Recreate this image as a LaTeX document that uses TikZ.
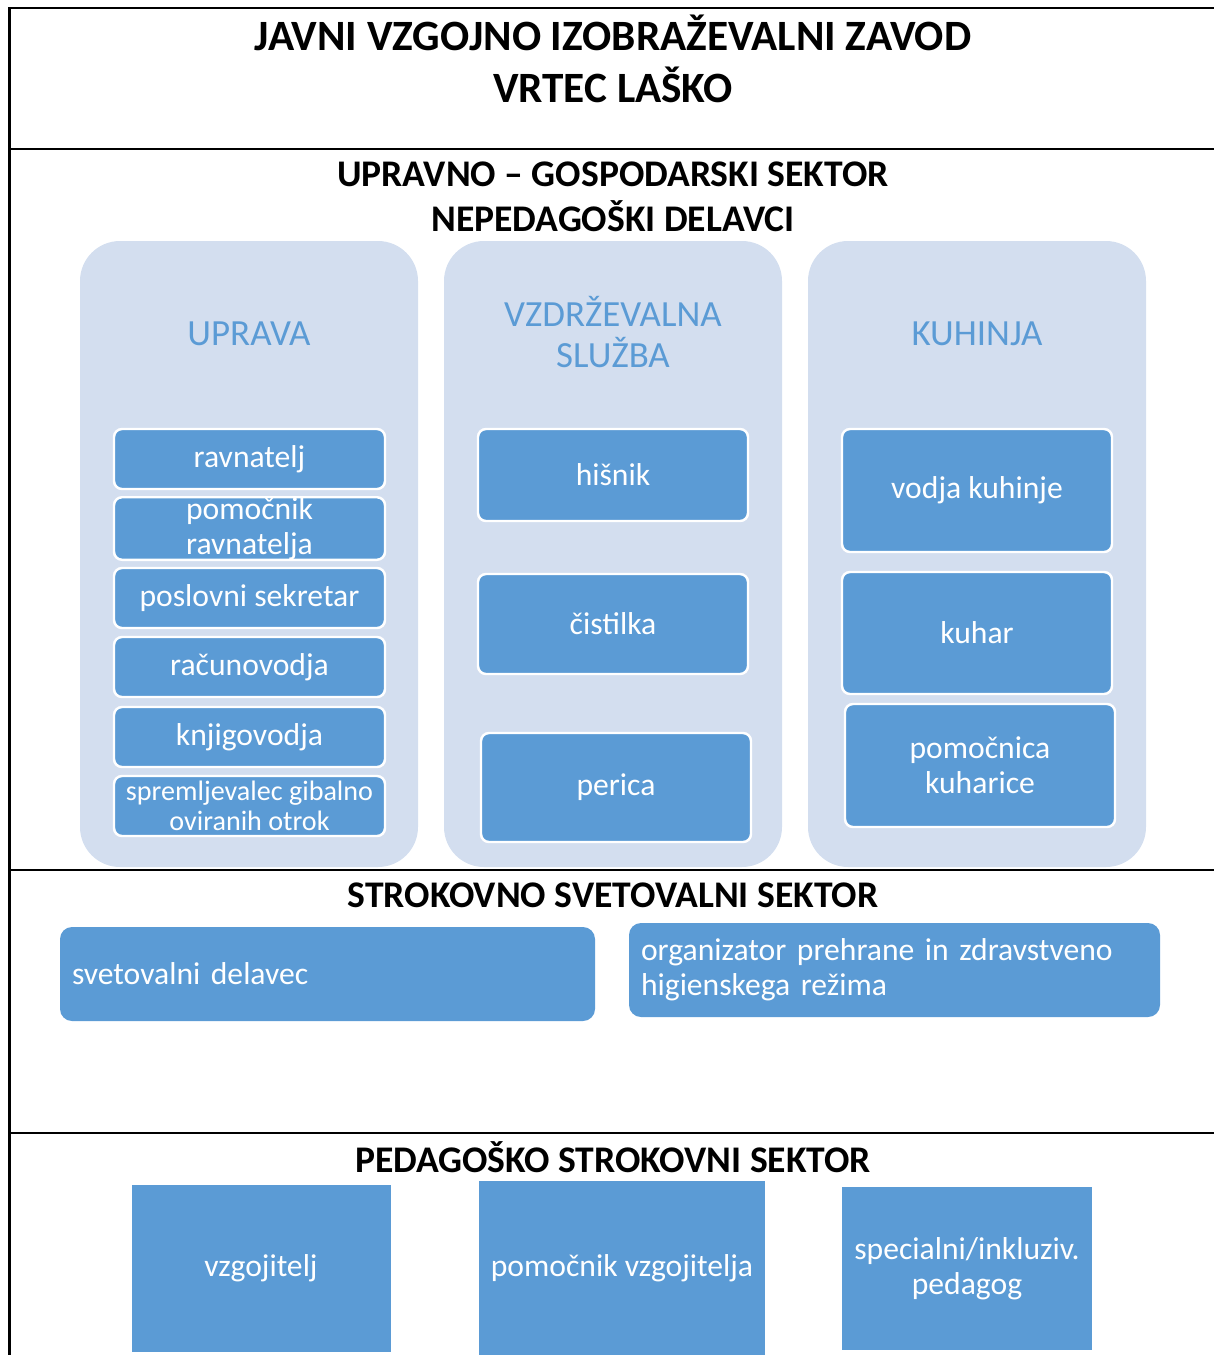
\documentclass[tikz,border=0pt]{standalone}
\usepackage{fontspec}
\setmainfont{Carlito}
\usepackage{xcolor}
\usetikzlibrary{positioning}

\definecolor{panelfill}{RGB}{211,222,239}
\definecolor{boxfill}{RGB}{91,155,213}

\begin{document}
\begin{tikzpicture}[
  x=0.1mm, y=-0.1mm,
  every node/.style={font=\fontsize{9}{10}\selectfont, inner sep=0pt},
  headtext/.style={font=\fontsize{10.7}{12.8}\selectfont\bfseries, align=center},
  panel/.style={fill=panelfill, rounded corners=4mm, minimum width=338*0.1mm, minimum height=626*0.1mm},
  paneltitle/.style={font=\fontsize{10.5}{11.7}\selectfont, text=boxfill, align=center},
  unitbox/.style={fill=boxfill, draw=white, line width=0.7pt, rounded corners=0.8mm, text=white, align=center, minimum width=271*0.1mm},
  advbox/.style={fill=boxfill, rounded corners=1.2mm, text=white, align=left, inner xsep=1.2mm, minimum height=94*0.1mm},
  pedbox/.style={fill=boxfill, text=white, align=center}
]
\useasboundingbox (0,0) rectangle (1214,1355);

% Frame and sector lines
\draw[line width=0.6pt] (1214,8) -- (9.5,8) -- (9.5,1355);
\draw[line width=0.6pt] (9.5,149) -- (1214,149);
\draw[line width=0.6pt] (9.5,870) -- (1214,870);
\draw[line width=0.6pt] (9.5,1133) -- (1214,1133);

% Title
\node[headtext, font=\fontsize{12.3}{14.8}\selectfont\bfseries] (title) at (613,59)
  {JAVNI VZGOJNO IZOBRAŽEVALNI ZAVOD\\VRTEC LAŠKO};

% Upravno - gospodarski sektor
\node[headtext] (upravnoHead) at (613,196.5) {UPRAVNO – GOSPODARSKI SEKTOR\\NEPEDAGOŠKI DELAVCI};

\node[panel] (upravaPanel) at (249,554) {};
\node[panel] (vzdrPanel) at (613,554) {};
\node[panel] (kuhPanel) at (977,554) {};

\node[paneltitle] (upravaTitle) at (249,334) {UPRAVA};
\node[paneltitle] (vzdrTitle) at (613,332) {VZDRŽEVALNA\\SLUŽBA};
\node[paneltitle] (kuhTitle) at (977,334) {KUHINJA};

% Uprava
\node[unitbox, minimum height=60*0.1mm] (ravnatelj) at (249.5,459) {ravnatelj};
\node[unitbox, minimum height=60*0.1mm] (pomRavnatelja) at (249.5,528.5) {pomočnik\\ravnatelja};
\node[unitbox, minimum height=60*0.1mm] (sekretar) at (249.5,598) {poslovni sekretar};
\node[unitbox, minimum height=60*0.1mm] (racunovodja) at (249.5,667) {računovodja};
\node[unitbox, minimum height=60*0.1mm] (knjigovodja) at (249.5,737) {knjigovodja};
\node[unitbox, minimum height=60*0.1mm, font=\fontsize{8}{8.5}\selectfont] (spremljevalec) at (249.5,806)
  {spremljevalec gibalno\\oviranih otrok};

% Vzdrzevalna sluzba
\node[unitbox, minimum width=270*0.1mm, minimum height=92*0.1mm] (hisnik) at (613,475) {hišnik};
\node[unitbox, minimum width=270*0.1mm, minimum height=100*0.1mm] (cistilka) at (613,624) {čistilka};
\node[unitbox, minimum width=270*0.1mm, minimum height=109*0.1mm] (perica) at (616,787.5) {perica};

% Kuhinja
\node[unitbox, minimum width=270*0.1mm, minimum height=123*0.1mm] (vodjaKuhinje) at (977,490.5) {vodja kuhinje};
\node[unitbox, minimum width=270*0.1mm, minimum height=122*0.1mm] (kuhar) at (977,633) {kuhar};
\node[unitbox, minimum width=270*0.1mm, minimum height=123*0.1mm] (pomKuharice) at (980,765.5) {pomočnica\\kuharice};

% Strokovno svetovalni sektor
\node[headtext] (svetovalniHead) at (613,895) {STROKOVNO SVETOVALNI SEKTOR};
\node[advbox, text width=511*0.1mm] (svetovalni) at (327.5,974) {svetovalni delavec};
\node[advbox, text width=507*0.1mm] (organizator) at (894.5,970)
  {organizator prehrane in zdravstveno\\higienskega režima};

% Pedagosko strokovni sektor
\node[headtext] (pedagoskiHead) at (613,1157) {PEDAGOŠKO STROKOVNI SEKTOR};
\node[pedbox, minimum width=259*0.1mm, minimum height=167*0.1mm] (vzgojitelj) at (261,1268.5) {vzgojitelj};
\node[pedbox, minimum width=286*0.1mm, minimum height=174*0.1mm] (pomVzgojitelja) at (622,1268) {pomočnik vzgojitelja};
\node[pedbox, minimum width=250*0.1mm, minimum height=163*0.1mm] (specialni) at (967,1268.5)
  {specialni/inkluziv.\\pedagog};

\end{tikzpicture}
\end{document}
